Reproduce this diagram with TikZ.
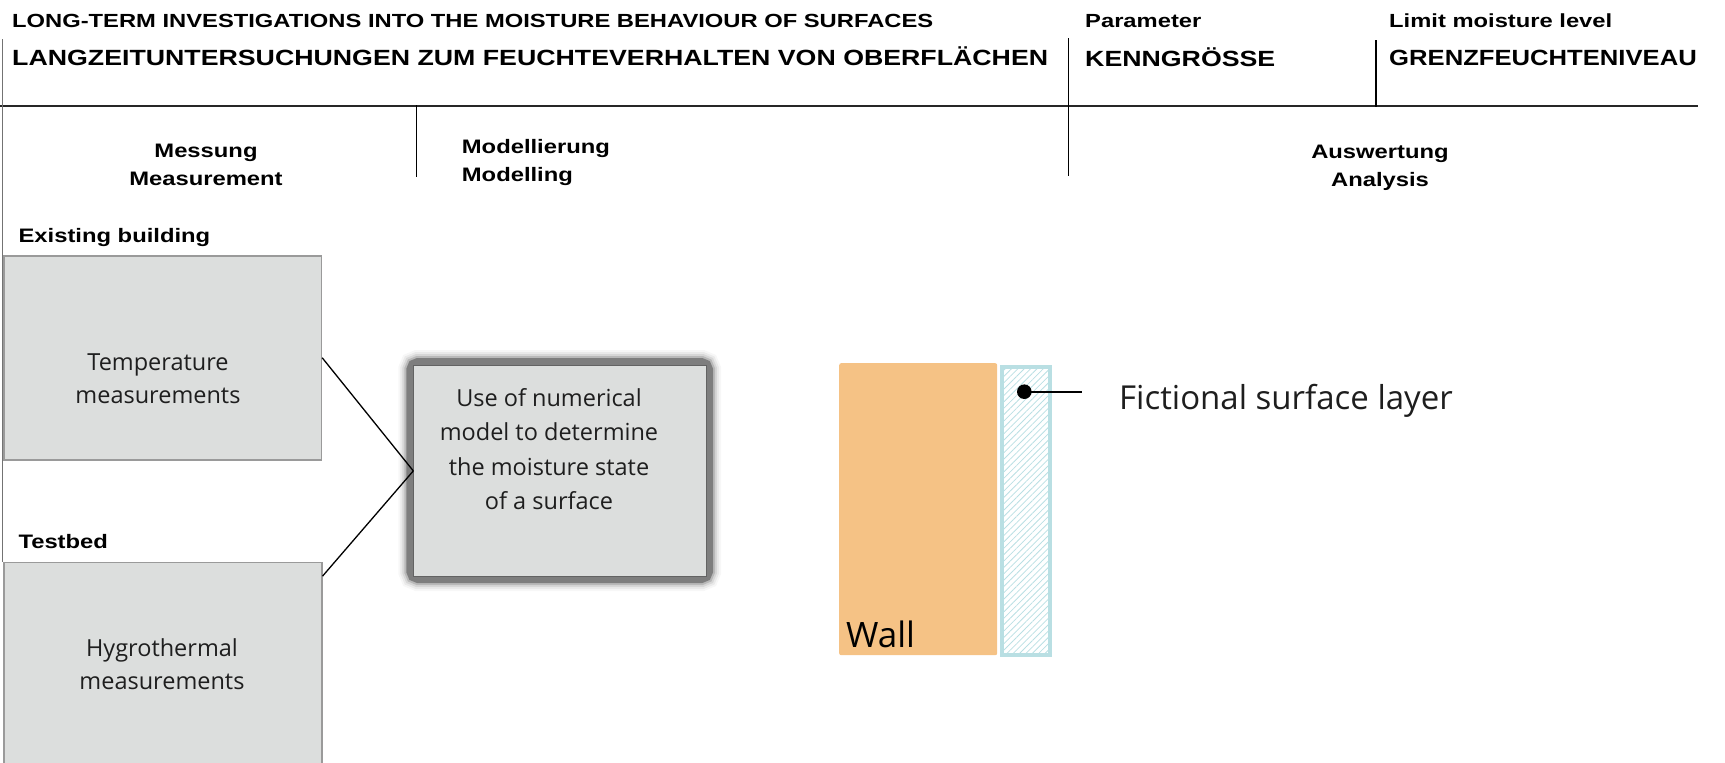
\documentclass[tikz,border=0pt]{standalone}
\usepackage{fontspec}
\setmainfont{Open Sans}
% Header faces: Arial-metric bold sans, widened
\newfontfamily\hdrsmall[FakeStretch=1.25]{Liberation Sans Bold}
\newfontfamily\hdrmid[FakeStretch=1.22]{Liberation Sans Bold}
\newfontfamily\hdrbig[FakeStretch=1.215]{Liberation Sans Bold}
\newfontfamily\hdrlimit[FakeStretch=1.165]{Liberation Sans Bold}
\usetikzlibrary{patterns.meta,calc}

\definecolor{boxfill}{HTML}{DCDEDD}
\definecolor{boxline}{HTML}{9A9A9A}
\definecolor{framegray}{HTML}{747474}
\definecolor{wallorange}{HTML}{F5C285}
\definecolor{layercyan}{HTML}{B9DFE3}
\definecolor{bodytext}{HTML}{1E1E1E}

\tikzset{
  titlesmall/.style={inner sep=0, anchor=base west, font=\hdrsmall\fontsize{19}{22}\selectfont},
  titlebig/.style={inner sep=0, anchor=base west, font=\hdrbig\fontsize{22}{26}\selectfont},
  titlelimit/.style={inner sep=0, anchor=base west, font=\hdrlimit\fontsize{22}{26}\selectfont},
  colhead/.style={inner sep=0, anchor=base, font=\hdrmid\fontsize{19.5}{23}\selectfont},
  rowhead/.style={inner sep=0, anchor=base west, font=\hdrmid\fontsize{19.5}{23}\selectfont},
  rule/.style={line width=1.8, black!85},
  divider/.style={line width=1.5, black},
  graybox/.style={draw=boxline, line width=1.5, fill=boxfill, inner sep=0, anchor=north west},
  bodyline/.style={inner sep=0, anchor=base, text=bodytext, font=\fontsize{23.5}{33}\selectfont},
  conn/.style={line width=1.3, black},
}

\begin{document}
\begin{tikzpicture}[x=1pt,y=-1pt]
\useasboundingbox (0,0) rectangle (1725,763);
\clip (0,0) rectangle (1725,763);

% ---------- header ----------
\node[titlesmall] (t1) at (12,27) {LONG-TERM INVESTIGATIONS INTO THE MOISTURE BEHAVIOUR OF SURFACES};
\node[titlebig]   (t2) at (12,65) {LANGZEITUNTERSUCHUNGEN ZUM FEUCHTEVERHALTEN VON OBERFLÄCHEN};
\node[titlesmall] (p1) at (1085,27.5) {Parameter};
\node[titlebig]   (p2) at (1085,66) {KENNGRÖSSE};
\node[titlesmall] (l1) at (1389,27.5) {Limit moisture level};
\node[titlelimit] (l2) at (1389,65) {GRENZFEUCHTENIVEAU};

\draw[rule] (0,106) -- (1698,106);
\draw[line width=1.5, black!55] (2.5,39) -- (2.5,562);
\draw[divider] (416.7,105) -- (416.7,177);
\draw[divider] (1068.3,38) -- (1068.3,176);
\draw[divider] (1376,40) -- (1376,107);

% ---------- column heads ----------
\node[colhead] (m1) at (206,157) {Messung};
\node[colhead] (m2) at (206,185) {Measurement};
\node[rowhead] (d1) at (461.7,153) {Modellierung};
\node[rowhead] (d2) at (461.7,181.7) {Modelling};
\node[colhead] (a1) at (1380,158) {Auswertung};
\node[colhead] (a2) at (1380,186) {Analysis};

\node[rowhead] (eb) at (18.4,242) {Existing building};
\node[rowhead] (tb) at (18.3,548) {Testbed};

% ---------- measurement boxes ----------
\node[graybox, minimum width=317.4, minimum height=204] (temp) at (3.3,255) {};
\node[bodyline] (temp1) at (158,370) {Temperature};
\node[bodyline] (temp2) at (158,403) {measurements};

\node[graybox, minimum width=317.7, minimum height=240] (hygro) at (3.3,561.7) {};
\node[bodyline] (hyg1) at (162,656) {Hygrothermal};
\node[bodyline] (hyg2) at (162,689) {measurements};

% ---------- model box with soft dark frame ----------
\foreach \w/\o in {30/0.06,26/0.10,22/0.16,18/0.30,14/0.85}
  \draw[framegray, line width=\w, opacity=\o, rounded corners=5] (413.3,365) rectangle (706,576);
\node[draw=framegray!85!black, line width=0.8, fill=boxfill, inner sep=0,
      minimum width=292.7, minimum height=211, anchor=north west] (model) at (413.3,365) {};
\node[bodyline] (mod1) at (549,406) {Use of numerical};
\node[bodyline] (mod2) at (549,440.5) {model to determine};
\node[bodyline] (mod3) at (549,475) {the moisture state};
\node[bodyline] (mod4) at (549,509.5) {of a surface};

\draw[conn] (temp.east) -- (model.west);
\draw[conn] ($(hygro.north east)+(0,14.5)$) -- (model.west);

% ---------- wall with fictional surface layer ----------
\node[fill=wallorange, rounded corners=2, inner sep=0, minimum width=158, minimum height=292,
      anchor=north west] (wall) at (839,363) {};
\node[inner sep=0, anchor=base west, text=black, font=\fontsize{35}{38}\selectfont] (walltxt) at (846,647.5) {Wall};
\node[pattern={Lines[angle=45,distance=4.5pt,line width=0.8pt]}, pattern color=layercyan,
      draw=layercyan, line width=4, inner sep=0, minimum width=47.7, minimum height=287.7,
      anchor=north west] (layer) at (1000.3,365.3) {};
\node[circle, fill=black, inner sep=0, minimum size=14.6] (dot) at (1024.3,391.7) {};
\coordinate (lead) at (1081.7,391.7);
\draw[line width=2] (dot.center) -- (lead);
\node[inner sep=0, anchor=base west, text=bodytext, font=\fontsize{33}{38}\selectfont] (fsl) at (1119,409) {Fictional surface layer};
\end{tikzpicture}
\end{document}
